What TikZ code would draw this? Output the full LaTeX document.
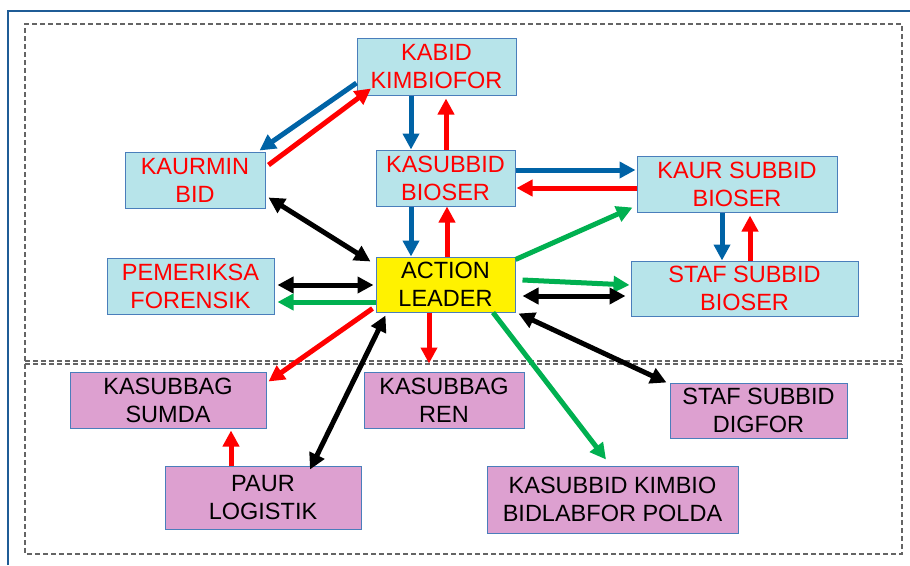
\documentclass[tikz,border=0pt]{standalone}
\usepackage{fontspec}
\setmainfont{Liberation Sans}
\usetikzlibrary{arrows.meta}
\definecolor{frameblue}{RGB}{31,92,150}
\definecolor{arrblue}{RGB}{0,99,166}
\definecolor{arrred}{RGB}{255,0,0}
\definecolor{arrgreen}{RGB}{0,176,80}
\definecolor{boxcyan}{RGB}{183,228,234}
\definecolor{boxpink}{RGB}{221,160,208}
\definecolor{boxline}{RGB}{74,126,187}
\definecolor{dashgray}{RGB}{100,100,100}
\tikzset{
  box/.style={draw=boxline, line width=1pt, inner sep=0pt, align=center,
    font=\fontsize{23.5}{28}\selectfont},
  upbox/.style={box, fill=boxcyan, text=arrred},
  lowbox/.style={box, fill=boxpink, text=black},
  arr/.style={line width=5pt, -{Triangle[length=16pt,width=16pt]}},
  darr/.style={line width=5pt, {Triangle[length=16pt,width=16pt]}-{Triangle[length=16pt,width=16pt]}},
  dashframe/.style={draw=dashgray, line width=1.4pt, dash pattern=on 5pt off 3pt}
}
\begin{document}
\begin{tikzpicture}[x=1pt,y=-1pt]
\useasboundingbox (0,0) rectangle (910,565);
% slide frame
\draw[frameblue, line width=1.5pt] (8,565) -- (8,11) -- (912,11);
% dashed areas
\draw[dashframe] (25,361) -- (25,24) -- (902,24) -- (902,361);
\draw[dashframe] (25,361) -- (902,361);
\draw[dashframe] (25,364) -- (902,364);
\draw[dashframe] (25,364) -- (25,554) -- (902,554) -- (902,364);
% nodes
\node[upbox, minimum width=159, minimum height=57] (kabid) at (436.5,66.5) {KABID\\KIMBIOFOR};
\node[upbox, minimum width=140, minimum height=56] (kaurmin) at (195,180) {KAURMIN\\BID};
\node[upbox, minimum width=139, minimum height=56] (kasubbid) at (445.5,178) {KASUBBID\\BIOSER};
\node[upbox, minimum width=200, minimum height=56] (kaur) at (737,184) {KAUR SUBBID\\BIOSER};
\node[box, fill=yellow, text=black, minimum width=139, minimum height=55] (action) at (445.5,284.5) {ACTION\\LEADER};
\node[upbox, minimum width=167, minimum height=56] (pemeriksa) at (190.5,286) {PEMERIKSA\\FORENSIK};
\node[upbox, minimum width=227, minimum height=55] (stafbioser) at (744.5,288.5) {STAF SUBBID\\BIOSER};
\node[lowbox, minimum width=196, minimum height=56] (sumda) at (168,400) {KASUBBAG\\SUMDA};
\node[lowbox, minimum width=160, minimum height=56] (ren) at (444,400) {KASUBBAG\\REN};
\node[lowbox, minimum width=177, minimum height=55] (digfor) at (758.5,410.5) {STAF SUBBID\\DIGFOR};
\node[lowbox, minimum width=196, minimum height=63] (paur) at (263,497.5) {PAUR\\LOGISTIK};
\node[lowbox, minimum width=251, minimum height=67] (kimbio) at (612.5,499.5) {KASUBBID KIMBIO\\BIDLABFOR POLDA};
% connectors
\draw[arr, arrblue] ([yshift=-16.5pt]kabid.west) -- ([xshift=-6pt,yshift=1pt]kaurmin.north east);
\draw[arr, arrred] ([xshift=3pt,yshift=15pt]kaurmin.east) -- ([xshift=14.5pt,yshift=7pt]kabid.south west);
\draw[arr, arrblue] ([xshift=-25.5pt]kabid.south) -- ([xshift=-34.5pt]kasubbid.north);
\draw[arr, arrred] ([xshift=0.5pt]kasubbid.north) -- ([xshift=9.5pt,yshift=-3pt]kabid.south);
\draw[arr, arrblue] ([yshift=8pt]kasubbid.east) -- ([xshift=-1pt,yshift=14pt]kaur.west);
\draw[arr, arrred] ([yshift=-4pt]kaur.west) -- ([xshift=1pt,yshift=-10pt]kasubbid.east);
\draw[darr, black] ([xshift=3pt,yshift=11pt]kaurmin.south east) -- ([xshift=-5pt,yshift=-5pt]action.north west);
\draw[arr, arrblue] ([xshift=-34.5pt]kasubbid.south) -- ([xshift=-34.5pt]action.north);
\draw[arr, arrred] ([xshift=1.5pt]action.north) -- ([xshift=1.5pt]kasubbid.south);
\draw[arr, arrblue] ([xshift=-15pt]kaur.south) -- ([xshift=-22.5pt]stafbioser.north);
\draw[arr, arrred] ([xshift=5.5pt]stafbioser.north) -- ([xshift=13pt,yshift=-3pt]kaur.south);
\draw[arr, arrgreen] ([yshift=-3pt]action.north east) -- ([xshift=-4pt,yshift=5pt]kaur.south west);
\draw[darr, black] ([xshift=3pt,yshift=1pt]pemeriksa.east) -- ([xshift=-2pt,yshift=-0.5pt]action.west);
\draw[arr, arrgreen] ([yshift=-17.5pt]action.west) -- ([xshift=3pt,yshift=-16pt]pemeriksa.east);
\draw[arr, arrgreen] ([xshift=7pt,yshift=4.5pt]action.east) -- ([xshift=-1pt,yshift=3.5pt]stafbioser.west);
\draw[darr, black] ([xshift=7pt,yshift=-11.5pt]action.east) -- ([xshift=-5pt,yshift=-7.5pt]stafbioser.west);
\draw[arr, arrred] ([xshift=-3pt,yshift=4pt]action.south west) -- ([xshift=2pt,yshift=-10pt]sumda.north east);
\draw[darr, black] ([xshift=10pt,yshift=-3pt]action.south west) -- ([xshift=47pt,yshift=-4pt]paur.north);
\draw[arr, arrred] ([xshift=-16.5pt]action.south) -- ([xshift=-15pt,yshift=8pt]ren.north);
\draw[arr, arrgreen] ([xshift=47.5pt]action.south) -- ([xshift=-6.5pt,yshift=6pt]kimbio.north);
\draw[darr, black] ([xshift=3pt,yshift=-1pt]action.south east) -- ([xshift=-3pt]digfor.north west);
\draw[arr, arrred] ([xshift=-32pt]paur.north) -- ([xshift=63pt,yshift=-2pt]sumda.south);
\end{tikzpicture}
\end{document}
